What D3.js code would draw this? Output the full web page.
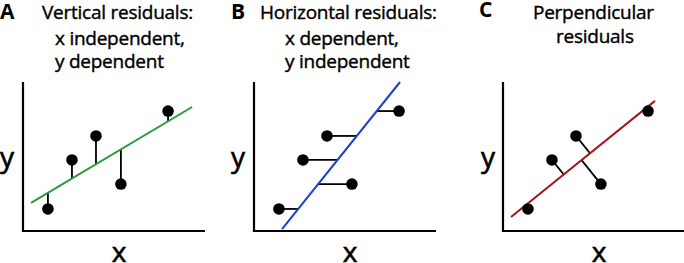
<!DOCTYPE html>
<html>
<head>
<meta charset="utf-8">
<script src="https://cdn.jsdelivr.net/npm/d3@7"></script>
<style>
  html, body { margin: 0; padding: 0; background: #fff; }
  svg text { font-family: "Open Sans", "Noto Sans", sans-serif; fill: #000; }
</style>
</head>
<body>
<svg id="chart" width="684" height="263"></svg>
<script>
(function () {
  // shared observations (same points in all three panels)
  var pointX = [1.37, 2.69, 4.01, 5.38, 7.97],
      pointY = [1.48, 4.77, 6.38, 3.15, 8.05];

  // fitted lines
  var fitA = {slope: 0.728, intercept: 1.56, from: 0.44, to: 9.29};   // y = a + b x
  var fitB = {slope: 0.657, intercept: 1.455, from: 0.13, to: 10};    // x = a + b y
  var fitC = {slope: 0.985, intercept: 0.507, from: 0.44, to: 8.35};  // y = a + b x

  var panelLetters = ['A', 'B', 'C'];
  var titleLines = [
    ['Vertical residuals:', 'x independent,', 'y dependent'],
    ['Horizontal residuals:', 'x dependent,', 'y independent'],
    ['Perpendicular', 'residuals']
  ];
  var axisNames = ['x', 'y'];

  var svg = d3.select('#chart');
  var left = [23, 254, 503];
  var colors = ['#2b9a3f', '#1d3fcc', '#a3171c'];

  // title layout: [x, baseline] per line
  var titlePos = [
    [[42, 19], [55, 45], [55, 68]],
    [[260, 19], [285, 45], [285, 68]],
    [[533, 19], [556, 43]]
  ];
  var letterPos = [[0, 19], [231, 19], [479, 17]];
  var yLabelX = [7, 238, 488];
  var xLabelX = [119, 350, 599];

  panelLetters.forEach(function (letter, i) {
    var x = d3.scaleLinear().domain([0, 10]).range([left[i], left[i] + 182]),
        y = d3.scaleLinear().domain([0, 10]).range([231, 82]);
    var g = svg.append('g');

    g.append('path')
      .attr('d', 'M' + x(0) + ',' + y(10) + 'V' + y(0) + 'H' + x(10))
      .attr('fill', 'none')
      .attr('stroke', '#000')
      .attr('stroke-width', 2.2);

    var pts = pointX.map(function (px, k) { return {x: px, y: pointY[k]}; });
    var line, resid;

    if (i === 0) {
      line = [[fitA.from, fitA.intercept + fitA.slope * fitA.from],
              [fitA.to, fitA.intercept + fitA.slope * fitA.to]];
      resid = pts.map(function (p) {
        return [[x(p.x), y(p.y)], [x(p.x), y(fitA.intercept + fitA.slope * p.x)]];
      });
    } else if (i === 1) {
      line = [[fitB.intercept + fitB.slope * fitB.from, fitB.from],
              [fitB.intercept + fitB.slope * fitB.to, fitB.to]];
      resid = pts.map(function (p) {
        return [[x(p.x), y(p.y)], [x(fitB.intercept + fitB.slope * p.y), y(p.y)]];
      });
    } else {
      line = [[fitC.from, fitC.intercept + fitC.slope * fitC.from],
              [fitC.to, fitC.intercept + fitC.slope * fitC.to]];
      // perpendicular foot in screen space
      var ax = x(line[0][0]), ay = y(line[0][1]),
          dx = x(line[1][0]) - ax, dy = y(line[1][1]) - ay,
          dd = dx * dx + dy * dy;
      resid = pts.map(function (p) {
        var qx = x(p.x), qy = y(p.y),
            t = ((qx - ax) * dx + (qy - ay) * dy) / dd;
        return [[qx, qy], [ax + t * dx, ay + t * dy]];
      });
    }

    g.selectAll('line.resid')
      .data(resid)
      .enter().append('line')
        .attr('class', 'resid')
        .attr('x1', function (d) { return d[0][0]; })
        .attr('y1', function (d) { return d[0][1]; })
        .attr('x2', function (d) { return d[1][0]; })
        .attr('y2', function (d) { return d[1][1]; })
        .attr('stroke', '#000')
        .attr('stroke-width', 1.8);

    g.append('line')
      .attr('x1', x(line[0][0])).attr('y1', y(line[0][1]))
      .attr('x2', x(line[1][0])).attr('y2', y(line[1][1]))
      .attr('stroke', colors[i])
      .attr('stroke-width', 2);

    g.selectAll('circle')
      .data(pts)
      .enter().append('circle')
        .attr('cx', function (d) { return x(d.x); })
        .attr('cy', function (d) { return y(d.y); })
        .attr('r', 5.8)
        .attr('fill', '#000');

    svg.append('text')
      .attr('x', letterPos[i][0]).attr('y', letterPos[i][1])
      .attr('font-size', 21).attr('font-weight', 'bold')
      .text(letter);

    // titles a touch heavier than plain regular
    titleLines[i].forEach(function (t, k) {
      svg.append('text')
        .attr('x', titlePos[i][k][0]).attr('y', titlePos[i][k][1])
        .attr('font-size', 19)
        .attr('letter-spacing', -0.25)
        .attr('stroke', '#000')
        .attr('stroke-width', 0.4)
        .text(t);
    });

    svg.append('text')
      .attr('x', xLabelX[i]).attr('y', 262)
      .attr('text-anchor', 'middle')
      .attr('font-size', 28)
      .attr('stroke', '#000')
      .attr('stroke-width', 0.6)
      .text(axisNames[0]);
    svg.append('text')
      .attr('x', yLabelX[i]).attr('y', 167)
      .attr('text-anchor', 'middle')
      .attr('font-size', 28)
      .attr('stroke', '#000')
      .attr('stroke-width', 0.6)
      .text(axisNames[1]);
  });
})();
</script>
</body>
</html>
